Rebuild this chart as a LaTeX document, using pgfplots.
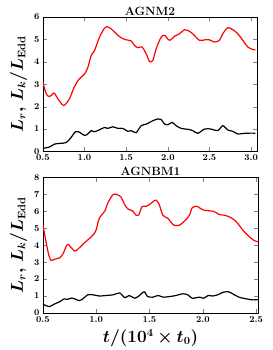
\documentclass[border=0pt]{standalone}
\usepackage{pgfplots}
\pgfplotsset{compat=1.18}
\usepackage{amsmath,bm}
\pgfplotsset{
  mystyle/.style={
    scale only axis,
    tick label style={font=\boldmath\bfseries\small},
    xticklabel style={/pgf/number format/.cd,fixed,fixed zerofill,precision=1},
    yticklabel style={/pgf/number format/.cd,fixed,precision=0},
    tick align=inside,
    every axis title shift=0pt,
    title style={font=\bfseries\large, inner sep=1.5pt},
    ylabel style={font=\fontsize{16}{18}\selectfont, yshift=0pt},
    every axis plot/.append style={line width=1.2pt, smooth},
  }
}
\begin{document}
\begin{tikzpicture}
\begin{axis}[mystyle, at={(0,162pt)}, anchor=south west, width=215pt, height=135pt,
  xmin=0.5, xmax=3.072, ymin=0, ymax=6, xtick={0.5,1.0,...,3.0}, ytick={0,1,...,6},
  title={AGNM2}, ylabel={$\bm{L_r,\, L_k / L_{\rm Edd}}$}]
\addplot[red] coordinates {
(0.5,3.1)(0.54,2.57)(0.58,2.45)(0.62,2.57)(0.64,2.6)(0.68,2.35)(0.74,2.07)(0.77,2.1)(0.82,2.35)(0.88,2.9)(0.94,3.25)(1.0,3.45)(1.04,3.75)(1.08,4.28)(1.12,4.5)(1.18,5.1)(1.24,5.5)(1.27,5.57)(1.32,5.47)(1.38,5.25)(1.44,5.07)(1.5,4.98)(1.56,4.93)(1.6,4.73)(1.64,4.63)(1.69,4.66)(1.74,4.36)(1.78,4.02)(1.82,4.06)(1.86,4.58)(1.92,5.1)(1.96,5.18)(2.02,4.96)(2.08,5.14)(2.14,5.25)(2.2,5.43)(2.24,5.4)(2.3,5.25)(2.38,4.96)(2.46,4.99)(2.5,4.98)(2.56,4.88)(2.62,4.96)(2.66,5.25)(2.72,5.52)(2.78,5.43)(2.84,5.25)(2.9,4.96)(2.96,4.66)(3.02,4.55)(3.05,4.54)
};
\addplot[black] coordinates {
(0.5,0.14)(0.58,0.2)(0.64,0.33)(0.7,0.36)(0.78,0.4)(0.84,0.63)(0.89,0.88)(0.93,0.88)(1.0,0.72)(1.04,0.78)(1.08,0.93)(1.12,0.88)(1.18,0.97)(1.24,1.07)(1.28,1.03)(1.34,1.1)(1.4,1.03)(1.46,1.03)(1.52,0.9)(1.56,0.93)(1.62,0.84)(1.68,1.15)(1.74,1.22)(1.82,1.37)(1.88,1.45)(1.92,1.43)(1.96,1.22)(2.0,1.19)(2.05,1.3)(2.1,1.15)(2.16,1.03)(2.24,0.99)(2.3,0.93)(2.36,0.81)(2.44,1.0)(2.52,1.0)(2.6,0.93)(2.66,1.15)(2.72,0.96)(2.78,0.9)(2.84,0.78)(2.92,0.81)(3.02,0.82)(3.05,0.81)
};
\end{axis}
\begin{axis}[mystyle, at={(0,0)}, anchor=south west, width=216pt, height=136pt,
  xmin=0.5, xmax=2.519, ymin=0, ymax=8, xtick={0.5,1.0,...,2.5}, ytick={0,1,...,8},
  title={AGNBM1}, ylabel={$\bm{L_r,\, L_k / L_{\rm Edd}}$},
  xlabel={$\bm{t/(10^4\times t_0)}$}, xlabel style={font=\fontsize{16}{18}\selectfont}]
\addplot[red] coordinates {
(0.5,5.2)(0.53,4.2)(0.556,3.4)(0.578,3.1)(0.61,3.17)(0.656,3.25)(0.69,3.5)(0.72,3.95)(0.74,4.05)(0.766,3.85)(0.8,3.65)(0.83,3.77)(0.875,4.05)(0.92,4.3)(0.97,4.6)(1.0,4.9)(1.03,5.6)(1.08,6.0)(1.11,6.5)(1.16,7.0)(1.2,6.97)(1.23,6.87)(1.27,6.37)(1.3,6.13)(1.34,6.03)(1.375,5.77)(1.4,5.8)(1.43,6.27)(1.47,6.3)(1.5,6.4)(1.53,6.55)(1.56,6.66)(1.59,6.42)(1.625,5.77)(1.67,5.6)(1.7,5.37)(1.73,5.18)(1.78,5.18)(1.83,5.43)(1.875,5.77)(1.9,6.2)(1.94,6.3)(1.97,6.2)(2.01,6.07)(2.06,6.03)(2.1,6.0)(2.16,5.8)(2.2,5.77)(2.25,5.67)(2.3,5.47)(2.34,5.18)(2.39,4.78)(2.44,4.48)(2.48,4.28)(2.519,4.2)
};
\addplot[black] coordinates {
(0.5,0.53)(0.53,0.43)(0.56,0.37)(0.61,0.53)(0.66,0.67)(0.7,0.83)(0.73,0.8)(0.77,0.88)(0.8,0.83)(0.84,0.73)(0.875,0.83)(0.92,1.07)(0.97,1.07)(1.03,1.0)(1.09,1.03)(1.16,1.07)(1.22,1.18)(1.27,0.9)(1.31,1.03)(1.36,0.87)(1.4,1.0)(1.45,1.25)(1.48,0.98)(1.53,0.93)(1.58,1.03)(1.63,0.93)(1.69,0.97)(1.75,1.03)(1.81,1.13)(1.86,1.07)(1.9,0.87)(1.97,0.93)(2.01,0.87)(2.05,1.03)(2.09,1.0)(2.14,1.07)(2.19,1.22)(2.24,1.25)(2.28,1.13)(2.34,0.93)(2.41,0.83)(2.47,0.77)(2.519,0.79)
};
\end{axis}
\path (-43pt,-36pt) rectangle (230pt,314pt);
\end{tikzpicture}
\end{document}
